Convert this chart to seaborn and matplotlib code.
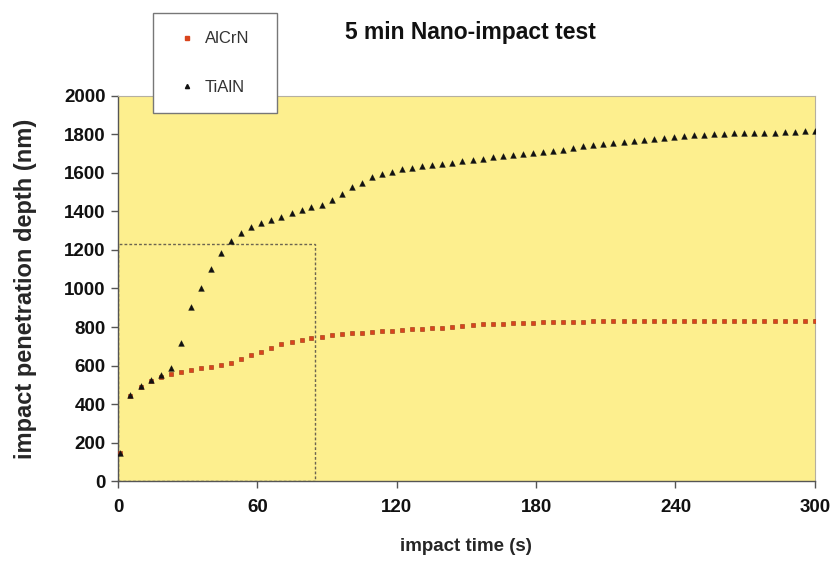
import numpy as np
import pandas as pd
import matplotlib
matplotlib.use("Agg")
import matplotlib.pyplot as plt
from matplotlib.patches import Rectangle
from matplotlib.lines import Line2D
import seaborn as sns

# ---- data ----
impact_time = [1.0, 5.3, 9.7, 14.0, 18.3, 22.7, 27.0, 31.3, 35.7, 40.0,
               44.3, 48.7, 53.0, 57.3, 61.7, 66.0, 70.3, 74.7, 79.0, 83.3,
               87.7, 92.0, 96.3, 100.7, 105.0, 109.3, 113.7, 118.0, 122.3, 126.7,
               131.0, 135.3, 139.7, 144.0, 148.3, 152.7, 157.0, 161.3, 165.7, 170.0,
               174.3, 178.7, 183.0, 187.3, 191.7, 196.0, 200.3, 204.7, 209.0, 213.3,
               217.7, 222.0, 226.3, 230.7, 235.0, 239.3, 243.7, 248.0, 252.3, 256.7,
               261.0, 265.3, 269.7, 274.0, 278.3, 282.7, 287.0, 291.3, 295.7, 300.0]

tialn_depth = [147, 447, 493, 525, 551, 585, 719, 906, 1001, 1101,
               1183, 1247, 1287, 1318, 1339, 1356, 1373, 1390, 1406, 1421,
               1436, 1460, 1491, 1526, 1550, 1578, 1595, 1607, 1619, 1628,
               1635, 1641, 1647, 1654, 1660, 1667, 1674, 1681, 1688, 1694,
               1699, 1705, 1711, 1716, 1721, 1730, 1738, 1745, 1751, 1756,
               1762, 1767, 1771, 1776, 1781, 1786, 1791, 1795, 1799, 1802,
               1805, 1807, 1809, 1809, 1810, 1810, 1812, 1814, 1816, 1818]

alcrn_depth = [147, 440, 488, 518, 540, 557, 568, 577, 585, 594,
               603, 615, 632, 653, 672, 693, 710, 723, 735, 745,
               750, 757, 763, 767, 771, 775, 778, 781, 784, 788,
               791, 794, 797, 801, 806, 810, 813, 816, 818, 820,
               822, 823, 824, 825, 826, 827, 828, 829, 830, 831,
               832, 832, 833, 833, 833, 832, 832, 831, 831, 830,
               830, 830, 830, 829, 829, 829, 829, 830, 830, 830]

series_names = ["AlCrN", "TiAlN"]
x_ticks = [0, 60, 120, 180, 240, 300]
y_ticks = [0, 200, 400, 600, 800, 1000, 1200, 1400, 1600, 1800, 2000]
zoom_box_time = 85
zoom_box_depth = 1230

df = pd.DataFrame({
    "time": impact_time * 2,
    "depth": alcrn_depth + tialn_depth,
    "coating": [series_names[0]] * len(impact_time) + [series_names[1]] * len(impact_time),
})

sns.set_theme(style="ticks")
plt.rcParams["font.family"] = ["Liberation Sans", "DejaVu Sans"]

fig = plt.figure(figsize=(8.34, 5.71), dpi=100)
ax = fig.add_axes([0.1415, 0.1576, 0.8355, 0.6743])
ax.set_facecolor("#fdef8e")

red = "#d9441c"
sns.scatterplot(data=df[df.coating == "AlCrN"], x="time", y="depth", ax=ax,
                marker="s", s=10, color=red, edgecolor="#9a3010",
                linewidth=0.4, legend=False, zorder=3)
sns.scatterplot(data=df[df.coating == "TiAlN"], x="time", y="depth", ax=ax,
                marker="^", s=17, color="#111111", edgecolor="#111111",
                linewidth=0.3, legend=False, zorder=4)

ax.add_patch(Rectangle((0, 0), zoom_box_time, zoom_box_depth, fill=False,
                       edgecolor="#6b6450", linestyle=(0, (2, 1.5)),
                       linewidth=1.0, zorder=2))

ax.set_xlim(0, 300)
ax.set_ylim(0, 2000)
ax.set_xticks(x_ticks)
ax.set_yticks(y_ticks)
ax.tick_params(axis="both", direction="out", length=5, width=1, colors="#555555",
               labelcolor="#111111", labelsize=13.5)
ax.tick_params(axis="x", pad=8)
ax.tick_params(axis="y", pad=4)
for lab in ax.get_xticklabels() + ax.get_yticklabels():
    lab.set_fontweight("bold")

for side in ["left", "bottom"]:
    ax.spines[side].set_color("#555555")
    ax.spines[side].set_linewidth(1.0)
for side in ["top", "right"]:
    ax.spines[side].set_visible(True)
    ax.spines[side].set_color("#b5b0a0")
    ax.spines[side].set_linewidth(0.8)

ax.set_xlabel("impact time (s)", fontsize=13.5, fontweight="bold", labelpad=16)
ax.set_ylabel("impact penetration depth (nm)", fontsize=17, fontweight="bold", labelpad=19)

fig.text(0.564, 0.943, "5 min Nano-impact test", ha="center", va="center",
         fontsize=16.5, fontweight="bold", color="#111111")

handles = [
    Line2D([], [], linestyle="none", marker="s", markersize=2.5, color=red),
    Line2D([], [], linestyle="none", marker="^", markersize=3, color="#111111"),
]
leg = fig.legend(handles, series_names, loc="upper left",
                 bbox_to_anchor=(153 / 834, 1 - 112 / 571, 124 / 834, 99 / 571),
                 mode="expand", fontsize=12, frameon=True, fancybox=False,
                 handlelength=1.9, handletextpad=0.1, labelspacing=2.0,
                 borderpad=1.1, borderaxespad=0)
leg.get_frame().set_edgecolor("#777777")
leg.get_frame().set_linewidth(1.0)
leg.get_frame().set_facecolor("white")
leg.get_frame().set_alpha(1.0)
leg.set_zorder(10)
for t in leg.get_texts():
    t.set_color("#333333")

fig.savefig("out.png", dpi=100)
